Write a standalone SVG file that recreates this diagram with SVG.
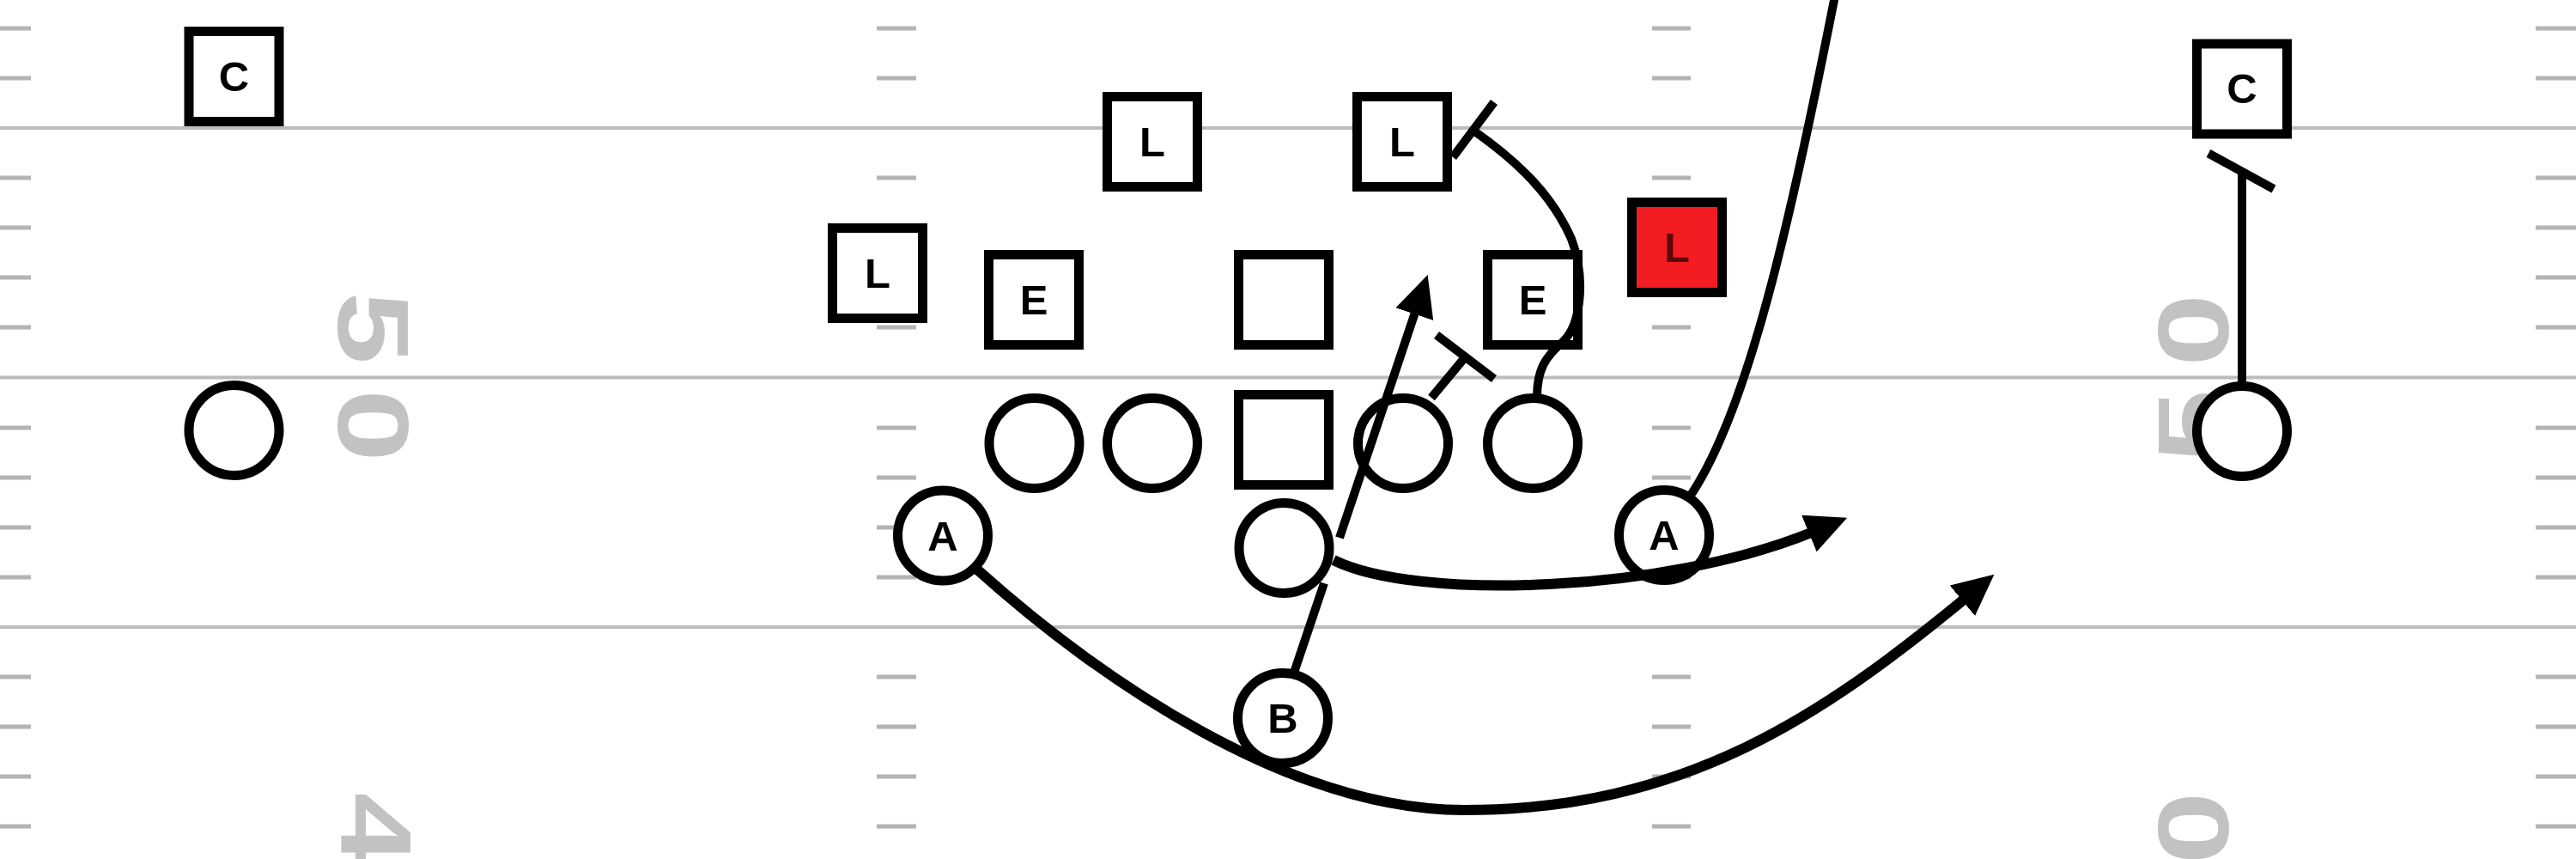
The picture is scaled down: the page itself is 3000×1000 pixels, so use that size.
<svg xmlns="http://www.w3.org/2000/svg" width="3000" height="1000" viewBox="0 0 3000 1000">
<defs>
<style>
.yl{stroke:#bcbcbc;stroke-width:4;fill:none}
.hm{stroke:#b4b4b4;stroke-width:5;fill:none}
.num{font-family:"Liberation Sans",Arial,sans-serif;font-weight:bold;font-size:117px;fill:#c2c2c2;text-anchor:middle}
.nd{fill:#fff;stroke:#000;stroke-width:11}
.red{fill:#f21c22;stroke:#000;stroke-width:11}
.lbl{font-family:"Liberation Sans",Arial,sans-serif;font-weight:bold;font-size:49px;text-anchor:middle;fill:#000}
.cn{fill:none;stroke:#000;stroke-width:10;stroke-linecap:butt;stroke-linejoin:round}
.thick{stroke-width:12}
</style>
<marker id="arrow" markerUnits="userSpaceOnUse" viewBox="0 0 48 46" markerWidth="48" markerHeight="46" refX="6" refY="23" orient="auto"><path d="M0,0 L48,23 L0,46 Z" fill="#000"/></marker>
</defs>
<rect x="0" y="0" width="3000" height="1000" fill="#fff"/>
<g id="field">
<path class="yl" d="M0,149H3000M0,439.5H3000M0,730H3000"/>
<path class="hm" d="M0,33H36M0,91H36M0,207H36M0,265H36M0,323H36M0,381H36M0,498H36M0,556H36M0,614H36M0,672H36M0,788H36M0,846H36M0,904H36M0,962H36
M1021,33H1067M1021,91H1067M1021,207H1067M1021,265H1067M1021,323H1067M1021,381H1067M1021,498H1067M1021,556H1067M1021,614H1067M1021,672H1067M1021,788H1067M1021,846H1067M1021,904H1067M1021,962H1067
M1924,33H1969M1924,91H1969M1924,207H1969M1924,265H1969M1924,323H1969M1924,381H1969M1924,498H1969M1924,556H1969M1924,614H1969M1924,672H1969M1924,788H1969M1924,846H1969M1924,904H1969M1924,962H1969
M2953,33H3000M2953,91H3000M2953,207H3000M2953,265H3000M2953,323H3000M2953,381H3000M2953,498H3000M2953,556H3000M2953,614H3000M2953,672H3000M2953,788H3000M2953,846H3000M2953,904H3000M2953,962H3000"/>
<text class="num" transform="translate(394,439) rotate(90) scale(1.3,1)" x="-44 43.5" y="0">50</text>
<text class="num" transform="translate(398,965) rotate(90) scale(1.3,1)" x="0" y="0">4</text>
<text class="num" transform="translate(2595,440) rotate(-90) scale(1.3,1)" x="-43 43" y="0">50</text>
<text class="num" transform="translate(2595,964) rotate(-90) scale(1.3,1)" x="0" y="0">0</text>
</g>
<g id="nodes">
<g id="c-left"><rect class="nd" x="220" y="36.5" width="105" height="105"/><text class="lbl" x="272.5" y="106">C</text></g>
<g id="o-left"><circle class="nd" cx="272.5" cy="501" r="52.5"/></g>
<g id="l1"><rect class="nd" x="969.5" y="265.5" width="105" height="105"/><text class="lbl" x="1022" y="335">L</text></g>
<g id="l2"><rect class="nd" x="1289.5" y="112.5" width="105" height="105"/><text class="lbl" x="1342" y="182">L</text></g>
<g id="l3"><rect class="nd" x="1580.5" y="112.5" width="105" height="105"/><text class="lbl" x="1633" y="182">L</text></g>
<g id="e1"><rect class="nd" x="1151.5" y="296.5" width="105" height="105"/><text class="lbl" x="1204" y="366">E</text></g>
<g id="box-mid"><rect class="nd" x="1442.5" y="296.5" width="105" height="105"/></g>
<g id="e2"><rect class="nd" x="1732.5" y="296.5" width="105" height="105"/><text class="lbl" x="1785" y="366">E</text></g>
<g id="l-red"><rect class="red" x="1900.5" y="235.5" width="105" height="105"/><text class="lbl" x="1953" y="305" style="fill:#5a0808">L</text></g>
<g id="o1"><circle class="nd" cx="1204.5" cy="516" r="52.5"/></g>
<g id="o2"><circle class="nd" cx="1342" cy="516" r="52.5"/></g>
<g id="sq-center"><rect class="nd" x="1442.5" y="459.5" width="105" height="105"/></g>
<g id="o3"><circle class="nd" cx="1634" cy="516" r="52.5"/></g>
<g id="o4"><circle class="nd" cx="1785" cy="516" r="52.5"/></g>
<g id="a-left"><circle class="nd" cx="1098" cy="623.5" r="52.5"/><text class="lbl" x="1098" y="641">A</text></g>
<g id="qb"><circle class="nd" cx="1495.5" cy="638" r="52.5"/></g>
<g id="a-right"><circle class="nd" cx="1938" cy="623" r="52.5"/><text class="lbl" x="1938" y="640">A</text></g>
<g id="b"><circle class="nd" cx="1494" cy="836" r="52.5"/><text class="lbl" x="1494" y="853">B</text></g>
<g id="c-right"><rect class="nd" x="2558.5" y="51" width="105" height="105"/><text class="lbl" x="2611" y="120">C</text></g>
<g id="o-right"><circle class="nd" cx="2611" cy="502" r="52.5"/></g>
</g>
<g id="connectors">
<path class="cn" d="M1507,783 L1542,679 M1560,626 L1649.3,359.9" marker-end="url(#arrow)"/>
<path class="cn" d="M1667,463 L1706.5,415.5"/>
<path class="cn" d="M1673,390 L1740,441"/>
<path class="cn" d="M1790,462 C1790,430 1800,415 1820,398 C1843,376 1846,320 1830,278 C1808,228 1770,190 1716,152"/>
<path class="cn" d="M1740,119 L1692,183"/>
<path class="cn" d="M1968,578 C2035,480 2085,260 2138,-10"/>
<path class="cn thick" d="M1553,652 C1650,700 1940,690 2112.4,618.8" marker-end="url(#arrow)"/>
<path class="cn thick" d="M1138,663 C1280,790 1500,943 1705,943 C1960,943 2120,835.6 2290,695.5" marker-end="url(#arrow)"/>
<path class="cn" d="M2611,446 L2611,199"/>
<path class="cn" d="M2572,178.5 L2648,220"/>
</g>
</svg>
